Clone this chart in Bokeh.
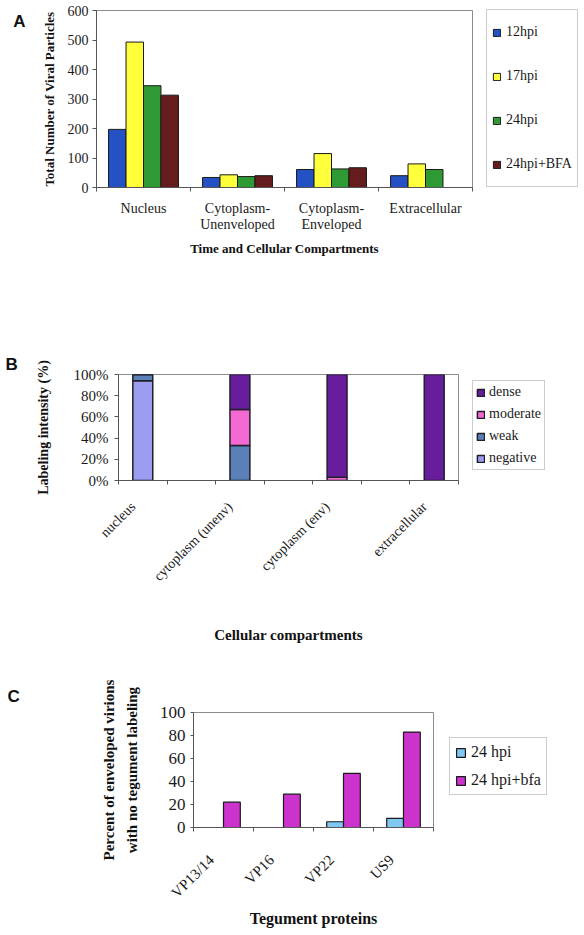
import numpy as np
from math import pi
from bokeh.plotting import figure
from bokeh.models import (ColumnDataSource, FixedTicker, Legend, LegendItem, LinearAxis,
                          Range1d, PrintfTickFormatter, Title)
from bokeh.embed import file_html
from bokeh.resources import INLINE

SERIF = "Liberation Serif"
LEGEND_SERIF = "'Liberation Serif'"
SANS = "Liberation Sans"

# ---------------- Panel A data ----------------
compartments_a = ["Nucleus", "Cytoplasm-\nUnenveloped", "Cytoplasm-\nEnveloped", "Extracellular"]
series_a = ["12hpi", "17hpi", "24hpi", "24hpi+BFA"]
hpi12 = [197, 34, 61, 40]
hpi17 = [493, 43, 115, 80]
hpi24 = [345, 37, 63, 61]
hpi24_bfa = [313, 40, 67, None]
colors_a = ["#2452c4", "#ffff3c", "#2f9a33", "#651c1c"]
yticks_a = [0, 100, 200, 300, 400, 500, 600]

# ---------------- Panel B data ----------------
compartments_b = ["nucleus", "cytoplasm (unenv)", "cytoplasm (env)", "extracellular"]
intensity_levels = ["negative", "weak", "moderate", "dense"]
negative = [94, 0, 0, 0]
weak = [6, 33, 0, 0]
moderate = [0, 34, 3, 0]
dense = [0, 33, 97, 100]
colors_b = ["#9c9cf0", "#5b80b8", "#f46ad2", "#681e9c"]
yticks_b = [0, 20, 40, 60, 80, 100]

# ---------------- Panel C data ----------------
proteins = ["VP13/14", "VP16", "VP22", "US9"]
series_c = ["24 hpi", "24 hpi+bfa"]
c_24hpi = [0, 0, 5, 8]
c_24hpi_bfa = [22, 29, 47, 83]
colors_c = ["#80c8f2", "#cc33cc"]
yticks_c = [0, 20, 40, 60, 80, 100]

AXIS_COLOR = "#555555"
OUTLINE = "#8c8c8c"


def base_style(p):
    p.xgrid.visible = False
    p.ygrid.visible = False
    p.outline_line_color = OUTLINE
    p.outline_line_width = 1
    p.background_fill_color = "white"
    p.border_fill_color = "white"
    for ax in (p.xaxis[0], p.yaxis[0]):
        ax.axis_line_color = AXIS_COLOR
        ax.major_tick_line_color = AXIS_COLOR
        ax.minor_tick_line_color = AXIS_COLOR
        ax.major_label_text_font = SERIF
        ax.major_label_text_color = "#1a1a1a"
        ax.axis_label_text_font = SERIF
        ax.axis_label_text_font_style = "bold"
        ax.axis_label_text_color = "#111111"
        ax.major_tick_in = 0
        ax.minor_tick_in = 0


def make_legend(items, font_size, **kw):
    return Legend(items=items, label_text_font=LEGEND_SERIF, label_text_font_size=font_size,
                  label_text_color="#1a1a1a", border_line_color="#999999",
                  border_line_width=1, background_fill_color="white",
                  background_fill_alpha=1, **kw)


def letter_title(p, text, offset, standoff):
    p.add_layout(Title(text=text, align="left", offset=offset, standoff=standoff,
                       text_font=SANS, text_font_style="bold", text_font_size="17px",
                       text_color="#111111"), "above")


# ======================= Panel A =======================
n_a = len(compartments_a)
centers_a = np.arange(n_a) + 0.5
bw_a = 0.186
pa = figure(frame_width=376, frame_height=177, min_border_left=96, min_border_right=104,
            min_border_top=10, min_border_bottom=143,
            x_range=Range1d(0, n_a), y_range=Range1d(0, 600),
            output_backend="svg", toolbar_location=None)
base_style(pa)
items_a = []
for k, (name, vals, col) in enumerate(zip(series_a, [hpi12, hpi17, hpi24, hpi24_bfa], colors_a)):
    tops = [np.nan if v is None else v for v in vals]
    src = ColumnDataSource(dict(x=centers_a + (k - 1.5) * bw_a, top=tops))
    r = pa.vbar(x="x", top="top", bottom=0, width=bw_a, source=src,
                fill_color=col, line_color="#1a1a1a", line_width=1)
    items_a.append(LegendItem(label=name, renderers=[r]))

pa.xaxis.ticker = FixedTicker(ticks=list(centers_a), minor_ticks=list(range(n_a + 1)))
pa.xaxis.major_label_overrides = {float(c): lab for c, lab in zip(centers_a, compartments_a)}
pa.xaxis.major_tick_out = 0
pa.xaxis.minor_tick_out = 4
pa.xaxis.major_label_standoff = 9
pa.xaxis.major_label_text_font_size = "14px"
pa.xaxis.major_label_text_line_height = 1.1
pa.xaxis.axis_label = "Time and Cellular Compartments"
pa.xaxis.axis_label_text_font_size = "13px"
pa.xaxis.axis_label_standoff = 6
pa.yaxis.ticker = FixedTicker(ticks=yticks_a)
pa.yaxis.major_tick_out = 4
pa.yaxis.major_label_standoff = 4
pa.yaxis.major_label_text_font_size = "14px"
pa.yaxis.axis_label = "Total Number of Viral Particles"
pa.yaxis.axis_label_text_font_size = "13px"
pa.yaxis.axis_label_standoff = 8

# panel letter "A" drawn as the single label of an extra, line-less left axis
pa.extra_y_ranges = {"letter": Range1d(0, 177)}
letter_axis = LinearAxis(y_range_name="letter", ticker=FixedTicker(ticks=[166]),
                         major_label_overrides={166: "A"}, axis_line_color=None,
                         major_tick_line_color=None, minor_tick_line_color=None,
                         major_label_standoff=7, major_label_text_font=SANS,
                         major_label_text_font_style="bold", major_label_text_font_size="17px",
                         major_label_text_color="#111111")
pa.add_layout(letter_axis, "left")

lg_a = make_legend(items_a, "14px", location=(14, 0),
                   glyph_width=9, glyph_height=9, label_height=34, spacing=10,
                   padding=5, label_standoff=5, margin=7)
pa.add_layout(lg_a, "right")

# ======================= Panel B =======================
n_slots_b = 2 * len(compartments_b) - 1
x_b = [2 * i + 0.5 for i in range(len(compartments_b))]
label_pos_b = [x - 0.2 for x in x_b]
pb = figure(frame_width=340, frame_height=106, min_border_left=118, min_border_right=118,
            min_border_top=44, min_border_bottom=180,
            x_range=Range1d(0, n_slots_b), y_range=Range1d(0, 100),
            output_backend="svg", toolbar_location=None)
base_style(pb)
src_b = ColumnDataSource(dict(x=x_b, negative=negative, weak=weak, moderate=moderate, dense=dense))
rs_b = pb.vbar_stack(intensity_levels, x="x", width=0.41, source=src_b,
                     fill_color=colors_b, line_color="#1f1f2a", line_width=1.5)
pb.xaxis.ticker = FixedTicker(ticks=label_pos_b, minor_ticks=list(range(n_slots_b + 1)))
pb.xaxis.major_label_overrides = {float(c): lab for c, lab in zip(label_pos_b, compartments_b)}
pb.xaxis.major_label_orientation = pi / 4
pb.xaxis.major_tick_out = 0
pb.xaxis.minor_tick_out = 4
pb.xaxis.major_label_standoff = 20
pb.xaxis.major_label_text_font_size = "14px"
pb.xaxis.axis_label = "Cellular compartments"
pb.xaxis.axis_label_text_font_size = "15px"
pb.xaxis.axis_label_standoff = 35
pb.yaxis.ticker = FixedTicker(ticks=yticks_b)
pb.yaxis.formatter = PrintfTickFormatter(format="%d%%")
pb.yaxis.major_tick_out = 4
pb.yaxis.major_label_standoff = 6
pb.yaxis.major_label_text_font_size = "15px"
pb.yaxis.axis_label = "Labeling intensity (%)"
pb.yaxis.axis_label_text_font_size = "14px"
pb.yaxis.axis_label_standoff = 20

items_b = [LegendItem(label=name, renderers=[r]) for name, r in zip(intensity_levels, rs_b)][::-1]
lg_b = make_legend(items_b, "14px", location=(14, 10),
                   glyph_width=9, glyph_height=9, label_height=16, spacing=6,
                   padding=3, label_standoff=4, margin=7)
pb.add_layout(lg_b, "right")
letter_title(pb, "B", -113, 2)

# ======================= Panel C =======================
n_c = len(proteins)
centers_c = np.arange(n_c) + 0.5
label_pos_c = [c - 0.2 for c in centers_c]
bw_c = 0.28
pc = figure(frame_width=240, frame_height=115, min_border_left=193, min_border_right=143,
            min_border_top=52, min_border_bottom=100,
            x_range=Range1d(0, n_c), y_range=Range1d(0, 100),
            output_backend="svg", toolbar_location=None)
base_style(pc)
items_c = []
for k, (name, vals, col) in enumerate(zip(series_c, [c_24hpi, c_24hpi_bfa], colors_c)):
    tops = [np.nan if v == 0 else v for v in vals]
    src = ColumnDataSource(dict(x=centers_c + (k - 0.5) * bw_c, top=tops))
    r = pc.vbar(x="x", top="top", bottom=0, width=bw_c, source=src,
                fill_color=col, line_color="#1a1a1a", line_width=1.2)
    items_c.append(LegendItem(label=name, renderers=[r]))
pc.xaxis.ticker = FixedTicker(ticks=label_pos_c, minor_ticks=list(range(n_c + 1)))
pc.xaxis.major_label_overrides = {float(c): lab for c, lab in zip(label_pos_c, proteins)}
pc.xaxis.major_label_orientation = pi / 4
pc.xaxis.major_tick_out = 0
pc.xaxis.minor_tick_out = 4
pc.xaxis.major_label_standoff = 26
pc.xaxis.major_label_text_font_size = "15px"
pc.xaxis.axis_label = "Tegument proteins"
pc.xaxis.axis_label_text_font_size = "16px"
pc.xaxis.axis_label_standoff = 0
pc.yaxis.ticker = FixedTicker(ticks=yticks_c)
pc.yaxis.major_tick_out = 3
pc.yaxis.major_label_standoff = 5
pc.yaxis.major_label_text_font_size = "17px"
pc.yaxis.axis_label = "Percent of enveloped virions\nwith no tegument labeling"
pc.yaxis.axis_label_text_font_size = "15px"
pc.yaxis.axis_label_text_line_height = 1.45
pc.yaxis.axis_label_standoff = 17

lg_c = make_legend(items_c, "16px", location=(16, 32),
                   glyph_width=11, glyph_height=11, label_height=18, spacing=10,
                   padding=5, label_standoff=5, margin=8)
pc.add_layout(lg_c, "right")
letter_title(pc, "C", -186, 13)

open("out.html", "w").write(file_html([pa, pb, pc], INLINE))
